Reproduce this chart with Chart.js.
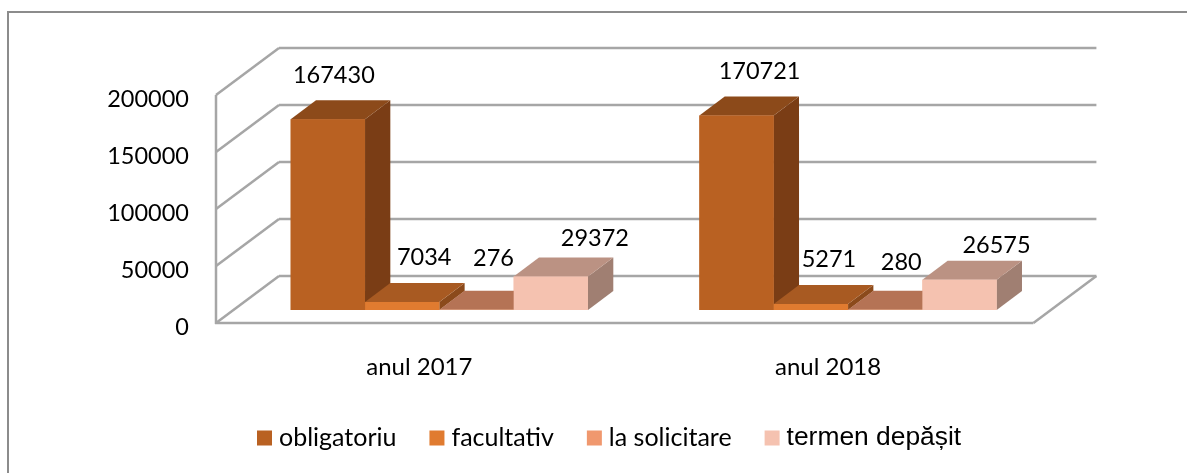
<!DOCTYPE html>
<html><head><meta charset="utf-8">
<style>html,body{margin:0;padding:0;background:#fff}#w{width:1187px;height:473px;position:relative}</style>
<script src="https://cdn.jsdelivr.net/npm/chart.js@4"></script>
</head><body><div id="w"><canvas id="c" width="1187" height="473"></canvas></div>
<script>
const categories = ['anul 2017', 'anul 2018'];
const obligatoriu = [167430, 170721];
const facultativ = [7034, 5271];
const laSolicitare = [276, 280];
const termenDepasit = [29372, 26575];
const seriesNames = ['obligatoriu', 'facultativ', 'la solicitare', 'termen depășit'];
const yTicks = [0, 50000, 100000, 150000, 200000];

const frontColors = ['#B96122', '#E07B30', '#F0986E', '#F5C2B0'];
const topColors = ['#8C4A1A', '#A85A22', '#B57355', '#BB9283'];
const sideColors = ['#7A3D15', '#8B4A1B', '#9A5C40', '#A07F72'];
const labelShift = [[[6,-44],[23,-44]],[[22,-45],[18,-45]],[[17,-51],[16,-47]],[[44,-38],[37,-34]]];
const GRID = '#A6A6A6';
const BAR_DEPTH = {x:25.3, y:-19};
const WALL_FRONT = {x:-19, y:13};
const WALL_BACK = {x:44, y:-34};
const LABEL_FONT = 'Lato, sans-serif';

function poly(ctx, pts, fill){
  ctx.beginPath();
  pts.forEach((p,i)=> i?ctx.lineTo(p[0],p[1]):ctx.moveTo(p[0],p[1]));
  ctx.closePath(); ctx.fillStyle = fill; ctx.fill();
}
function line(ctx,x1,y1,x2,y2){ctx.beginPath();ctx.moveTo(x1,y1);ctx.lineTo(x2,y2);ctx.stroke();}

const walls = {
  id:'walls',
  beforeDatasetsDraw(chart){
    const {ctx,scales:{x,y}} = chart;
    const fx=x.left+WALL_FRONT.x, bx=x.left+WALL_BACK.x;
    const frx=x.right+WALL_FRONT.x, brx=x.right+WALL_BACK.x;
    ctx.save(); ctx.strokeStyle=GRID; ctx.lineWidth=2.5;
    yTicks.forEach(v=>{
      const p=y.getPixelForValue(v);
      line(ctx,bx,p+WALL_BACK.y,brx,p+WALL_BACK.y);
      line(ctx,fx,p+WALL_FRONT.y,bx,p+WALL_BACK.y);
    });
    const p0=y.getPixelForValue(0), pm=y.getPixelForValue(200000);
    line(ctx,fx,pm+WALL_FRONT.y,fx,p0+WALL_FRONT.y+1);
    line(ctx,fx-1,p0+WALL_FRONT.y,frx,p0+WALL_FRONT.y);
    line(ctx,frx,p0+WALL_FRONT.y,brx,p0+WALL_BACK.y);
    ctx.restore();
  }
};
const bars3d = {
  id:'bars3d',
  afterDatasetsDraw(chart){
    const ctx=chart.ctx, d=BAR_DEPTH;
    chart.data.datasets.forEach((ds,i)=>{
      chart.getDatasetMeta(i).data.forEach((el)=>{
        const p=el.getProps(['x','y','base','width'],true);
        const l=p.x-p.width/2, r=p.x+p.width/2, t=p.y, b=p.base;
        poly(ctx,[[r,t],[r+d.x,t+d.y],[r+d.x,b+d.y],[r,b]],sideColors[i]);
        poly(ctx,[[l,t],[l+d.x,t+d.y],[r+d.x,t+d.y],[r,t]],topColors[i]);
        el.draw(ctx);
      });
    });
    ctx.save();
    ctx.fillStyle='#000'; ctx.font='23.5px '+LABEL_FONT; ctx.textAlign='center'; ctx.textBaseline='middle';
    chart.data.datasets.forEach((ds,i)=>{
      chart.getDatasetMeta(i).data.forEach((el,j)=>{
        const s=labelShift[i][j];
        ctx.fillText(String(ds.data[j]),el.x+s[0],el.y+s[1]);
      });
    });
    ctx.restore();
  }
};
const legendCfg = {y:438, box:15, startX:257, textGap:7, itemGap:33};
const legend3d = {
  id:'legend3d',
  afterDraw(chart){
    const ctx=chart.ctx; let x=legendCfg.startX;
    ctx.save(); ctx.textAlign='left'; ctx.textBaseline='middle'; ctx.fillStyle='#000';
    chart.data.datasets.forEach((ds,i)=>{
      ctx.fillStyle=frontColors[i];
      ctx.fillRect(x,legendCfg.y-legendCfg.box/2,legendCfg.box,legendCfg.box);
      x+=legendCfg.box+legendCfg.textGap;
      ctx.font = i===3 ? '26.4px "Liberation Sans", sans-serif' : '25px '+LABEL_FONT;
      ctx.fillStyle='#000';
      ctx.fillText(ds.label,x,legendCfg.y);
      x+=ctx.measureText(ds.label).width+legendCfg.itemGap;
    });
    ctx.restore();
  }
};
const frame = {
  id:'frame',
  beforeDraw(chart){
    const ctx=chart.ctx; ctx.save();
    ctx.fillStyle='#fff'; ctx.fillRect(0,0,chart.width,chart.height);
    ctx.strokeStyle='#8C8C8C'; ctx.lineWidth=2;
    ctx.beginPath(); ctx.moveTo(8,chart.height); ctx.lineTo(8,12); ctx.lineTo(chart.width,12); ctx.stroke();
    ctx.restore();
  }
};
const seriesValues=[obligatoriu,facultativ,laSolicitare,termenDepasit];
new Chart(document.getElementById('c'),{
  type:'bar',
  data:{labels:categories,datasets:seriesNames.map((n,i)=>({label:n,data:seriesValues[i],backgroundColor:frontColors[i],borderWidth:0}))},
  options:{
    responsive:false,animation:false,
    layout:{padding:{left:0,right:134.6,top:82,bottom:0}},
    datasets:{bar:{categoryPercentage:0.7274,barPercentage:1}},
    plugins:{legend:{display:false},tooltip:{enabled:false}},
    scales:{
      x:{grid:{display:false},border:{display:false},
        ticks:{padding:35,labelOffset:-20,color:'#000',font:{family:'Lato',size:24},maxRotation:0},
        afterFit(s){s.height=163;}},
      y:{min:0,max:200000,grid:{display:false},border:{display:false},
        afterBuildTicks(s){s.ticks=yTicks.map(v=>({value:v}));},
        ticks:{padding:38,labelOffset:17,color:'#000',font:{family:'Lato',size:23.5},callback:(v)=>String(v)},
        afterFit(s){s.width=235;}}
    }
  },
  plugins:[frame,walls,bars3d,legend3d]
});
</script></body></html>
